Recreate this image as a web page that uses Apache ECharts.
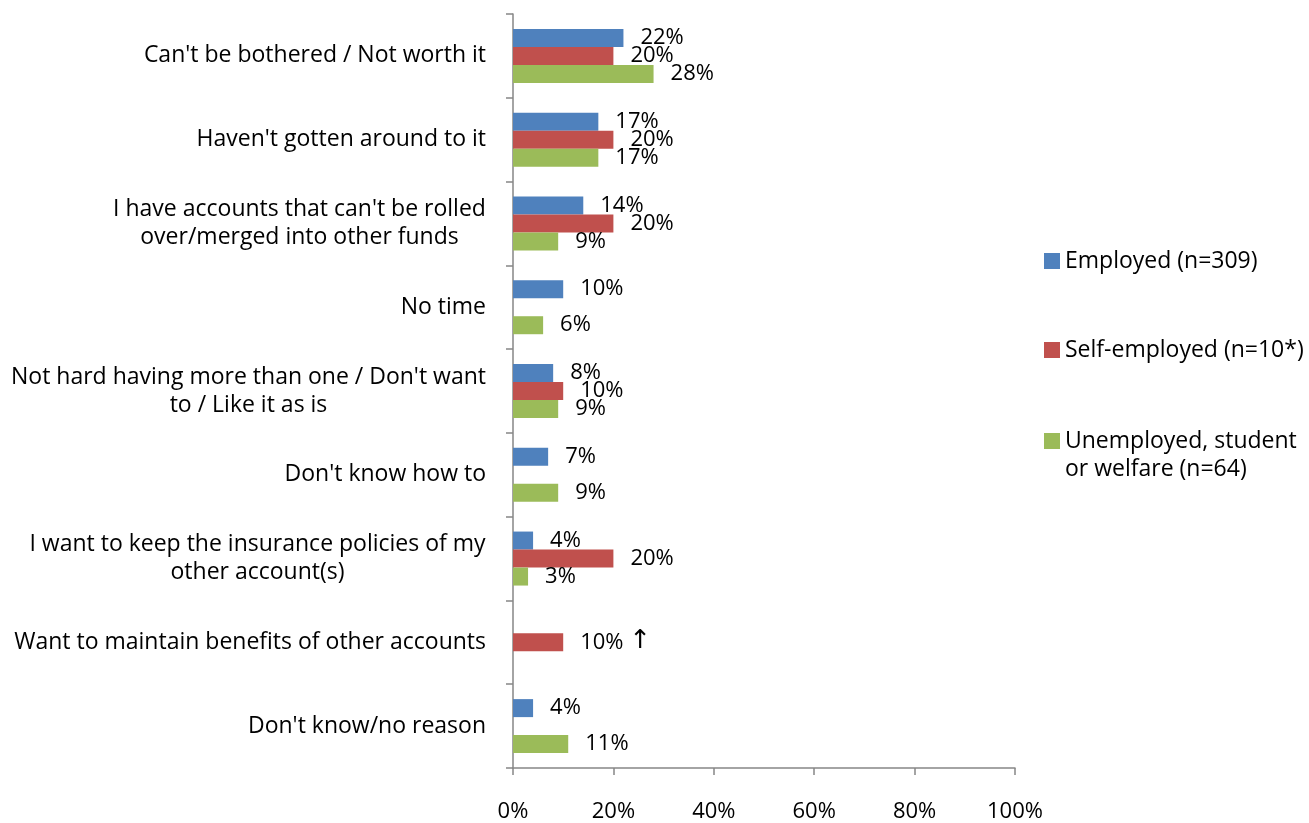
<!DOCTYPE html>
<html lang="en">
<head>
	<meta charset="UTF-8">
	<title>Reasons for not consolidating accounts</title>
	<script src="https://cdn.jsdelivr.net/npm/echarts@6/dist/echarts.min.js"></script>
	<style>
		html,body{margin:0;padding:0;width:100%;height:100%;background:#fff;}
		#chart{width:1309px;height:823px;}
	</style>
</head>
<body>
	<div id="chart"></div>
<script>
	// categories, top to bottom
	var categories = [
		"Can't be bothered / Not worth it",
		"Haven't gotten around to it",
		"I have accounts that can't be rolled\nover/merged into other funds",
		"No time",
		"Not hard having more than one / Don't want\nto / Like it as is",
		"Don't know how to",
		"I want to keep the insurance policies of my\nother account(s)",
		"Want to maintain benefits of other accounts",
		"Don't know/no reason"
	];
	var seriesNames = [
		'Employed (n=309)',
		'Self-employed (n=10*)',
		'Unemployed, student or welfare (n=64)'
	];
	// values in %, null = no bar
	var employed     = [22, 17, 14, 10, 8, 7, 4, null, 4];
	var selfEmployed = [20, 20, 20, null, 10, null, 20, 10, null];
	var unemployed   = [28, 17, 9, 6, 9, 9, 3, null, 11];
	var selfEmployedNote = ['', '', '', '', '', '', '', '\u2191', ''];
	var xTicks = [0, 20, 40, 60, 80, 100];

	var FONT = '"Open Sans", "Liberation Sans", sans-serif';
	var colors = ['#4F81BD', '#C0504D', '#9BBB59'];
	var CAT_SIZE = 23;

	// multi-line category labels are centred line by line, block right-aligned
	var ctx = document.createElement('canvas').getContext('2d');
	ctx.font = CAT_SIZE + 'px "Open Sans"';
	var rich = {};
	for (var i = 0; i < categories.length; i++) {
		var lines = categories[i].split('\n');
		var w = 0;
		for (var j = 0; j < lines.length; j++) {
			w = Math.max(w, ctx.measureText(lines[j]).width);
		}
		rich['c' + i] = {width: Math.ceil(w), align: 'center', fontSize: CAT_SIZE, fontFamily: FONT, color: '#000', lineHeight: 28};
	}

	function makeSeries(name, data, idx, notes) {
		return {
			name: name,
			type: 'bar',
			data: data,
			barWidth: 18,
			barGap: '0%',
			itemStyle: {color: colors[idx]},
			label: {
				show: true,
				position: 'right',
				distance: 17,
				color: '#000',
				fontSize: 22,
				fontFamily: FONT,
				formatter: function (p) {
					var note = notes ? notes[p.dataIndex] : '';
					return p.value + '%' + (note ? ' {arr|' + note + '}' : '');
				},
				rich: {
					arr: {fontSize: 26, fontFamily: '"DejaVu Sans", sans-serif', color: '#000', padding: [0, 0, 2, 0]}
				}
			}
		};
	}

	var legendText = {fontSize: CAT_SIZE, fontFamily: FONT, color: '#000', lineHeight: 28};

	var myChart = echarts.init(document.getElementById('chart'), null, {renderer: 'canvas'});
	var options = {
		animation: false,
		grid: {left: 513, right: 294, top: 14, bottom: 53, containLabel: false},
		legend: [{
			data: [seriesNames[0], seriesNames[1]],
			orient: 'vertical',
			left: 1039,
			top: 242,
			itemWidth: 16,
			itemHeight: 16,
			itemGap: 61,
			icon: 'rect',
			textStyle: legendText
		}, {
			data: [seriesNames[2]],
			orient: 'vertical',
			left: 1039,
			top: 394,
			itemWidth: 16,
			itemHeight: 16,
			icon: 'rect',
			formatter: function () {
				return '{b| }\n{a|Unemployed, student}\n{a|or welfare (n=64)}';
			},
			textStyle: {
				fontSize: CAT_SIZE, fontFamily: FONT, color: '#000', lineHeight: 28,
				rich: {
					a: {fontSize: CAT_SIZE, fontFamily: FONT, color: '#000', lineHeight: 28},
					b: {fontSize: CAT_SIZE, fontFamily: FONT, lineHeight: 28}
				}
			}
		}],
		xAxis: {
			type: 'value',
			min: xTicks[0],
			max: xTicks[xTicks.length - 1],
			interval: xTicks[1] - xTicks[0],
			splitLine: {show: false},
			axisLine: {show: true, lineStyle: {color: '#868686', width: 1.5}},
			axisTick: {show: true, length: 7, lineStyle: {color: '#868686', width: 1.5}},
			axisLabel: {
				margin: 33,
				fontSize: 22,
				fontFamily: FONT,
				color: '#000',
				formatter: '{value}%'
			}
		},
		yAxis: {
			type: 'category',
			inverse: true,
			data: categories,
			axisLine: {show: true, lineStyle: {color: '#868686', width: 1.5}},
			axisTick: {show: true, length: 7, lineStyle: {color: '#868686', width: 1.5}},
			axisLabel: {
				margin: 27,
				fontSize: CAT_SIZE,
				fontFamily: FONT,
				color: '#000',
				lineHeight: 28,
				rich: rich,
				formatter: function (value, index) {
					var lines = value.split('\n');
					if (lines.length === 1) return value;
					var out = [];
					for (var k = 0; k < lines.length; k++) {
						out.push('{c' + index + '|' + lines[k] + '}');
					}
					return out.join('\n');
				}
			}
		},
		series: [
			makeSeries(seriesNames[0], employed, 0),
			makeSeries(seriesNames[1], selfEmployed, 1, selfEmployedNote),
			makeSeries(seriesNames[2], unemployed, 2)
		]
	};
	myChart.setOption(options);
</script>
</body>
</html>
